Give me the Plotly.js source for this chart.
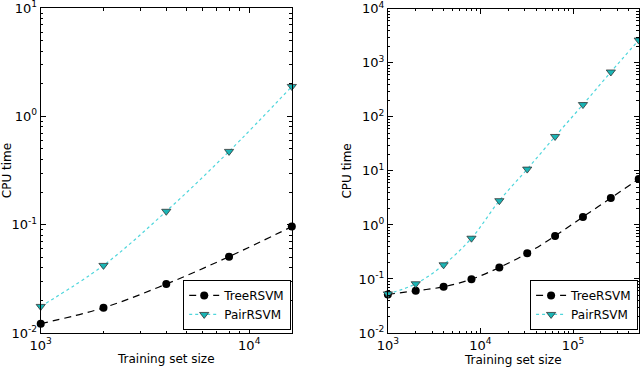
<!DOCTYPE html>
<html>
<head>
<meta charset="utf-8">
<script src="https://cdn.plot.ly/plotly-3.0.1.min.js"></script>
<style>
  html, body { margin: 0; padding: 0; background: #fff; }
  #chart { width: 640px; height: 367px; }
</style>
</head>
<body>
<div id="chart"></div>
<script>
  // left panel: training set sizes 1000..16000
  var sizesA = [1000, 2000, 4000, 8000, 16000];
  var treeA = [0.0122, 0.0171, 0.0283, 0.0507, 0.096];
  var pairA = [0.0176, 0.0421, 0.133, 0.475, 1.89];

  // right panel: training set sizes 1000..512000
  var sizesB = [1000, 2000, 4000, 8000, 16000, 32000, 64000, 128000, 256000, 512000];
  var treeB = [0.0518, 0.0605, 0.0716, 0.099, 0.163, 0.30, 0.627, 1.41, 3.15, 7.07];
  var pairB = [0.053, 0.0815, 0.183, 0.568, 2.81, 10.8, 43.4, 169, 677, 2640];

  // tick labels
  var xTicksA = [1000, 10000];
  var xLabelsA = ['10<sup>3</sup>', '10<sup>4</sup>'];
  var yTicksA = [0.01, 0.1, 1, 10];
  var yLabelsA = ['10<sup>-2</sup>', '10<sup>-1</sup>', '10<sup>0</sup>', '10<sup>1</sup>'];
  var xTicksB = [1000, 10000, 100000];
  var xLabelsB = ['10<sup>3</sup>', '10<sup>4</sup>', '10<sup>5</sup>'];
  var yTicksB = [0.01, 0.1, 1, 10, 100, 1000, 10000];
  var yLabelsB = ['10<sup>-2</sup>', '10<sup>-1</sup>', '10<sup>0</sup>', '10<sup>1</sup>',
                  '10<sup>2</sup>', '10<sup>3</sup>', '10<sup>4</sup>'];

  var font = { family: 'DejaVu Sans, sans-serif', size: 12, color: '#000' };
  var tickFont = { family: 'DejaVu Sans, sans-serif', size: 13, color: '#000' };
  var cyanFill = '#1ab5b5';
  var cyanLine = '#4fd6dc';

  function tree(x, y, xa, ya, leg) {
    return {
      x: x, y: y, xaxis: xa, yaxis: ya, legend: leg,
      name: 'TreeRSVM', mode: 'lines+markers',
      line: { color: '#000', dash: '7px,5px', width: 1.2, shape: 'spline' },
      marker: { symbol: 'circle', size: 8, color: '#000' },
      cliponaxis: false
    };
  }
  function pair(x, y, xa, ya, leg) {
    return {
      x: x, y: y, xaxis: xa, yaxis: ya, legend: leg,
      name: 'PairRSVM', mode: 'lines+markers',
      line: { color: cyanLine, dash: 'dot', width: 1.2, shape: 'spline' },
      marker: { symbol: 'triangle-down', size: 8, color: cyanFill, line: { color: '#333', width: 0.8 } },
      cliponaxis: false
    };
  }

  var data = [
    tree(sizesA, treeA, 'x', 'y', 'legend'),
    pair(sizesA, pairA, 'x', 'y', 'legend'),
    tree(sizesB, treeB, 'x2', 'y2', 'legend2'),
    pair(sizesB, pairB, 'x2', 'y2', 'legend2')
  ];

  function logAxis(extra) {
    var ax = {
      type: 'log', tickmode: 'array',
      showgrid: false, zeroline: false,
      showline: true, linecolor: '#000', linewidth: 1, mirror: 'allticks',
      ticks: 'inside', ticklen: 5, tickcolor: '#000', tickwidth: 1,
      ticklabeloverflow: 'allow',
      minor: { ticks: 'inside', ticklen: 2.5, tickcolor: '#000', dtick: 'D1', showgrid: false },
      tickfont: tickFont
    };
    for (var k in extra) ax[k] = extra[k];
    return ax;
  }

  var legendStyle = {
    bgcolor: '#fff', bordercolor: '#000', borderwidth: 1,
    font: { family: 'DejaVu Sans, sans-serif', size: 12, color: '#000' },
    xanchor: 'right', yanchor: 'bottom',
    tracegroupgap: 0, itemwidth: 30
  };
  var leg1 = Object.assign({}, legendStyle, { x: 0.455, y: 0.101 });
  var leg2 = Object.assign({}, legendStyle, { x: 0.997, y: 0.101 });

  var layout = {
    width: 640, height: 367,
    margin: { l: 0, r: 0, t: 0, b: 0 },
    paper_bgcolor: '#fff', plot_bgcolor: '#fff',
    font: font,
    showlegend: true,
    legend: leg1,
    legend2: leg2,
    xaxis: logAxis({ domain: [0.0636, 0.456], range: [2.9999, Math.log10(16000) + 0.0001], anchor: 'y',
      tickvals: xTicksA, ticktext: xLabelsA,
      title: { text: 'Training set size', font: font, standoff: 2 } }),
    yaxis: logAxis({ domain: [0.0926, 0.978], range: [-2.0001, 1.0001], anchor: 'x',
      tickvals: yTicksA, ticktext: yLabelsA,
      title: { text: 'CPU time', font: font, standoff: 4 } }),
    xaxis2: logAxis({ domain: [0.606, 0.998], range: [2.9999, Math.log10(512000) + 0.0001], anchor: 'y2',
      tickvals: xTicksB, ticktext: xLabelsB,
      title: { text: 'Training set size', font: font, standoff: 2 } }),
    yaxis2: logAxis({ domain: [0.0926, 0.976], range: [-2.0001, 4.0001], anchor: 'x2',
      tickvals: yTicksB, ticktext: yLabelsB,
      title: { text: 'CPU time', font: font, standoff: 4 } })
  };

  Plotly.newPlot('chart', data, layout, { displayModeBar: false, staticPlot: true });
</script>
</body>
</html>
